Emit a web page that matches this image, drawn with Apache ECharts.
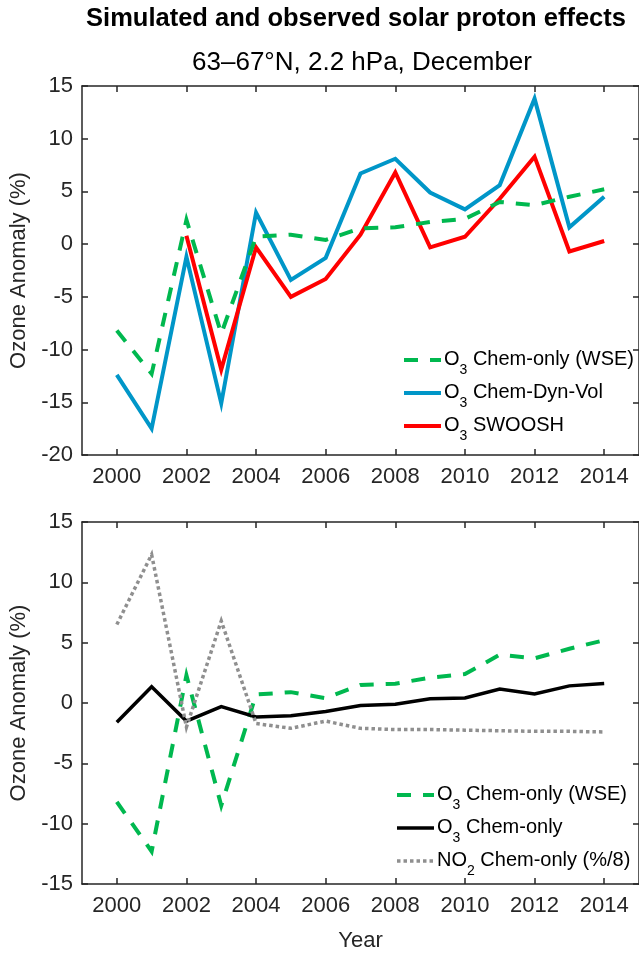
<!DOCTYPE html>
<html>
<head>
<meta charset="utf-8">
<script src="https://cdn.jsdelivr.net/npm/echarts@6/dist/echarts.min.js"></script>
<style>
html,body{margin:0;padding:0;background:#fff;}
#c{width:639px;height:953px;}
</style>
</head>
<body>
<div id="c"></div>
<script>
// ---- data ----
const years = [2000, 2001, 2002, 2003, 2004, 2005, 2006, 2007, 2008, 2009, 2010, 2011, 2012, 2013, 2014];
const o3ChemOnlyWSE = [-8.2, -12.3, 2.3, -8.5, 0.7, 0.9, 0.4, 1.5, 1.6, 2.1, 2.4, 4.0, 3.7, 4.5, 5.2];
const o3ChemDynVol = [-12.4, -17.5, -1.2, -15.1, 3.0, -3.4, -1.3, 6.7, 8.1, 4.9, 3.3, 5.6, 13.8, 1.6, 4.5];
const o3Swoosh = [null, null, 0.8, -11.9, -0.3, -5.0, -3.3, 0.9, 6.8, -0.3, 0.7, 4.3, 8.3, -0.7, 0.3];
const o3ChemOnly = [-1.6, 1.35, -1.5, -0.3, -1.15, -1.05, -0.7, -0.2, -0.1, 0.35, 0.42, 1.15, 0.75, 1.42, 1.62];
const no2ChemOnlyDiv8 = [6.5, 12.3, -2.0, 6.8, -1.7, -2.1, -1.5, -2.1, -2.2, -2.2, -2.25, -2.3, -2.35, -2.35, -2.4];
const xTicks = [2000, 2002, 2004, 2006, 2008, 2010, 2012, 2014];
const titleText = 'Simulated and observed solar proton effects';
const subtitleText = '63\u201367\u00b0N, 2.2 hPa, December';

function pairs(vals) {
  const out = [];
  years.forEach((y, i) => { if (vals[i] !== null) out.push([y, vals[i]]); });
  return out;
}

const FF = '"Liberation Sans", Arial, Helvetica, sans-serif';
const AX = '#262626';
const GREEN = '#00b84f', BLUE = '#0096c8', RED = '#ff0000', BLACK = '#000000', GRAY = '#8f8f8f';
const TICKFS = 22;

const legendNames = {
  wse1: '{a|O}{b|3}{a| Chem-only (WSE)}',
  dyn: '{a|O}{b|3}{a| Chem-Dyn-Vol}',
  swo: '{a|O}{b|3}{a| SWOOSH}',
  wse2: '{a|O}{b|3}{a| Chem-only (WSE)}',
  chem: '{a|O}{b|3}{a| Chem-only}',
  no2: '{a|NO}{b|2}{a| Chem-only (%/8)}'
};
const rich = {
  a: {fontSize: 20, fontFamily: FF, color: '#000', lineHeight: 22, verticalAlign: 'top'},
  b: {fontSize: 14, fontFamily: FF, color: '#000', lineHeight: 14, verticalAlign: 'top', padding: [14, 0, 0, 0]}
};

function xAxes(gridIndex, withName) {
  return [{
    type: 'value', gridIndex, min: 1999, max: 2015, position: 'bottom',
    axisLine: {show: true, onZero: false, lineStyle: {color: AX, width: 1.5}},
    axisTick: {show: true, inside: true, length: 6, customValues: xTicks, lineStyle: {color: AX, width: 1.5}},
    axisLabel: {show: true, customValues: xTicks, formatter: v => String(v), color: AX, fontSize: TICKFS, fontFamily: FF, margin: 11},
    splitLine: {show: false},
    name: withName ? 'Year' : '', nameLocation: 'middle', nameGap: 46,
    nameTextStyle: {color: AX, fontSize: TICKFS, fontFamily: FF}
  }, {
    type: 'value', gridIndex, min: 1999, max: 2015, position: 'top',
    axisLine: {show: true, onZero: false, lineStyle: {color: AX, width: 1.5}},
    axisTick: {show: true, inside: true, length: 6, customValues: xTicks, lineStyle: {color: AX, width: 1.5}},
    axisLabel: {show: false}, splitLine: {show: false}
  }];
}
function yAxes(gridIndex, min, max) {
  return [{
    type: 'value', gridIndex, min, max, interval: 5, position: 'left',
    axisLine: {show: true, onZero: false, lineStyle: {color: AX, width: 1.5}},
    axisTick: {show: true, inside: true, length: 6, lineStyle: {color: AX, width: 1.5}},
    axisLabel: {show: true, color: AX, fontSize: TICKFS, fontFamily: FF, margin: 9, formatter: v => String(v)},
    splitLine: {show: false},
    name: 'Ozone Anomaly (%)', nameLocation: 'middle', nameGap: 48, nameRotate: 90,
    nameTextStyle: {color: AX, fontSize: TICKFS, fontFamily: FF}
  }, {
    type: 'value', gridIndex, min, max, interval: 5, position: 'right',
    axisLine: {show: true, onZero: false, lineStyle: {color: AX, width: 1.5}},
    axisTick: {show: true, inside: true, length: 6, lineStyle: {color: AX, width: 1.5}},
    axisLabel: {show: false}, splitLine: {show: false}
  }];
}

function line(name, vals, xi, yi, color, width, type, z) {
  return {
    name, type: 'line', xAxisIndex: xi, yAxisIndex: yi, data: pairs(vals),
    showSymbol: false, symbol: 'none', animation: false, z,
    lineStyle: {color, width, type, cap: 'butt', join: 'miter'},
    itemStyle: {color}
  };
}

const legendCommon = {
  orient: 'vertical', itemWidth: 37, itemHeight: 10, itemGap: 5,
  formatter: n => legendNames[n], textStyle: {rich, padding: [0, 0, 0, -2]},
  lineStyle: {width: 'inherit', type: 'inherit'},
  itemStyle: {color: 'rgba(0,0,0,0)', borderWidth: 0, borderColor: 'rgba(0,0,0,0)', opacity: 0}
};

const chart = echarts.init(document.getElementById('c'), null, {renderer: 'canvas'});
chart.setOption({
  backgroundColor: '#fff',
  animation: false,
  grid: [
    {left: 82, top: 86, width: 558, height: 369},
    {left: 82, top: 522, width: 558, height: 367}
  ],
  xAxis: [...xAxes(0, false), ...xAxes(1, true)],
  yAxis: [...yAxes(0, -20, 15), ...yAxes(1, -15, 15)],
  legend: [
    Object.assign({data: ['wse1', 'dyn', 'swo'], left: 397, top: 344}, legendCommon),
    Object.assign({data: ['wse2', 'chem', 'no2'], left: 390, top: 779}, legendCommon)
  ],
  graphic: [
    {type: 'text', x: 356, y: 19, style: {text: titleText, fill: '#000', fontSize: 25.5, fontWeight: 'bold', fontFamily: FF, align: 'center', verticalAlign: 'middle'}},
    {type: 'text', x: 362, y: 63, style: {text: subtitleText, fill: '#000', fontSize: 26, fontFamily: FF, align: 'center', verticalAlign: 'middle'}}
  ],
  series: [
    line('dyn', o3ChemDynVol, 0, 0, BLUE, 4, 'solid', 2),
    line('swo', o3Swoosh, 0, 0, RED, 4, 'solid', 3),
    line('wse1', o3ChemOnlyWSE, 0, 0, GREEN, 4, [14, 12], 4),
    line('wse2', o3ChemOnlyWSE, 2, 2, GREEN, 4, [14, 12], 2),
    line('chem', o3ChemOnly, 2, 2, BLACK, 3.5, 'solid', 3),
    line('no2', no2ChemOnlyDiv8, 2, 2, GRAY, 3.5, [3.5, 3], 4)
  ]
});
</script>
</body>
</html>
